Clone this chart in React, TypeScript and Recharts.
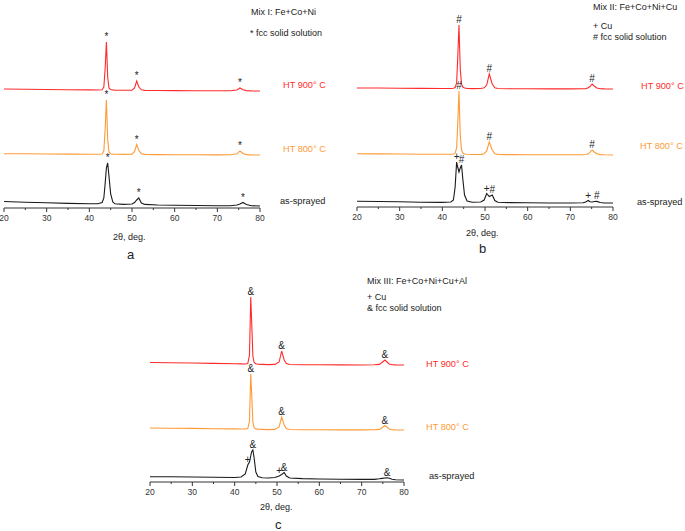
import React from 'react';
import { LineChart, Line, XAxis, YAxis, ReferenceDot } from 'recharts';

// 2θ grids (deg) and intensities (a.u.)
const ANGLES_A = [20, 25, 30, 35, 40, 42, 43, 43.4, 43.7, 44.0, 44.3, 44.6, 45, 45.5, 46, 48, 50, 50.6, 51.1, 51.6, 52.2, 53, 56, 60, 65, 70, 73, 74.6, 75.3, 76, 76.8, 78, 80];
const HT900_A = [2, 1.8, 1.5, 1.3, 1.1, 1, 1.3, 4, 22, 49, 14, 3, 1.4, 1, 0.9, 0.7, 0.9, 3, 10, 4, 1.2, 0.6, 0.5, 0.4, 0.3, 0.2, 0.3, 1, 3, 1.3, 0.4, 0.1, 0];
const HT800_A = [1.3, 1.2, 1, 0.9, 0.8, 0.8, 1, 4, 25, 55, 16, 3, 1.2, 0.9, 0.8, 0.6, 0.8, 3.5, 10.5, 4.5, 1.3, 0.6, 0.4, 0.3, 0.2, 0.1, 0.2, 1.2, 4, 1.5, 0.4, 0.1, 0];
const SPRAYED_A = [6.5, 5.8, 5.2, 4.6, 4.2, 4.3, 5.5, 10, 24, 40, 45, 32, 14, 6, 4.2, 3.6, 4, 5.5, 8, 10, 5, 3.6, 3, 2.7, 2.5, 2.3, 2.3, 3, 4, 5.5, 3.5, 2.3, 2];

const ANGLES_B = [20, 25, 30, 35, 40, 42, 42.6, 43.0, 43.35, 43.6, 43.9, 44.2, 44.5, 44.8, 45.2, 45.8, 47, 49, 49.8, 50.4, 51.0, 51.7, 52.3, 53, 56, 60, 65, 70, 73, 73.6, 74.2, 74.6, 75.1, 75.6, 76.2, 77, 78, 80];
const HT900_B = [1, 1, 0.8, 0.6, 0.5, 0.5, 0.8, 1.5, 6, 30, 64, 20, 5, 2, 1, 0.6, 0.4, 0.5, 1.2, 4, 15, 5, 1.2, 0.5, 0.3, 0.2, 0.1, 0.1, 0.2, 0.4, 1.2, 2.5, 5, 3, 1, 0.3, 0.1, 0];
const HT800_B = [1.2, 1.1, 1, 0.8, 0.7, 0.7, 1, 1.8, 7, 30, 64, 20, 5, 2, 1, 0.7, 0.5, 0.6, 1.3, 4, 13, 5, 1.3, 0.6, 0.4, 0.3, 0.2, 0.2, 0.3, 0.5, 1.3, 2.6, 5, 3, 1.2, 0.4, 0.2, 0];
const SPRAYED_B = [5.8, 5.5, 5.3, 4.8, 4.6, 5, 7, 20, 45, 40, 35, 39, 42, 28, 12, 6, 4.8, 5, 7, 13.5, 10.5, 12, 6.5, 4.8, 4.4, 4.2, 4, 4, 4.2, 5, 6.5, 5.2, 5, 5.5, 5.6, 4.5, 4, 4];

const ANGLES_C = [20, 25, 30, 35, 40, 41.5, 42.5, 43.1, 43.5, 43.8, 44.0, 44.3, 44.6, 45.0, 45.5, 46.5, 48, 49.5, 50.5, 51.1, 51.7, 52.2, 53, 56, 60, 65, 70, 73, 74.2, 74.8, 75.5, 76, 76.5, 77.2, 78, 80];
const HT900_C = [2.5, 2.3, 2, 1.6, 1.3, 1.1, 1, 1.5, 10, 68, 45, 9, 2.5, 1.2, 0.8, 0.6, 0.4, 0.6, 3, 14, 5, 1.5, 0.5, 0.3, 0.2, 0.1, 0, 0.2, 0.6, 2.5, 5, 3, 1, 0.3, 0.1, 0];
const HT800_C = [2, 1.8, 1.6, 1.3, 1.1, 1, 1, 1.4, 9, 56, 38, 8, 2.3, 1.1, 0.8, 0.6, 0.4, 0.6, 3, 13, 5, 1.4, 0.5, 0.3, 0.2, 0.1, 0.1, 0.2, 0.6, 2.2, 4.5, 2.8, 1, 0.3, 0.1, 0];
const SPRAYED_C = [5.3, 5.2, 5, 4.8, 4.5, 5, 8, 17, 20, 26, 30, 32, 24, 10, 5.5, 4.2, 4, 4.5, 6, 7.5, 9.5, 6, 4, 3.4, 3, 2.8, 2.6, 2.6, 3.2, 3.6, 4, 4.3, 3.8, 2.8, 2.3, 2];

// vertical stacking offsets of the heat-treated patterns
const OFFSETS_A = { ht900: 117, ht800: 53 };
const OFFSETS_B = { ht900: 118, ht800: 52 };
const OFFSETS_C = { ht900: 117, ht800: 52 };

// peak markers: [angle, symbol]
const MARKS_HT_A: [number, string][] = [[44.0, '*'], [51.1, '*'], [75.3, '*']];
const MARKS_SPRAYED_A: [number, string][] = [[44.3, '*'], [51.6, '*'], [76, '*']];
const MARKS_HT_B: [number, string][] = [[43.9, '#'], [51.0, '#'], [75.1, '#']];
const MARKS_SPRAYED_B: [number, string][] = [[43.35, '+'], [44.5, '#'], [50.4, '+'], [51.7, '#'], [74.2, '+'], [76.2, '#']];
const MARKS_HT_C: [number, string][] = [[43.8, '&'], [51.1, '&'], [75.5, '&']];
const MARKS_SPRAYED_C: [number, string][] = [[43.1, '+'], [44.3, '&'], [50.5, '+'], [51.7, '&'], [76, '&']];

const TICKS = [20, 25, 30, 35, 40, 45, 50, 55, 60, 65, 70, 75, 80];

const FONT = '"Liberation Sans", Arial, Helvetica, sans-serif';
const RED = '#ff2b2b';
const ORANGE = '#ff9a36';
const BLACK = '#1a1a1a';

const buildRows = (angles: number[], h900: number[], h800: number[], sprayed: number[], off: { ht900: number; ht800: number }) =>
  angles.map((a, i) => ({
    angle: a,
    ht900: h900[i] + off.ht900,
    ht800: h800[i] + off.ht800,
    sprayed: sprayed[i],
  }));

const AxisTick = (props: any) => {
  const { x, y, payload } = props;
  const major = payload.value % 10 === 0;
  return (
    <g>
      <line x1={x} y1={y} x2={x} y2={y + (major ? 4 : 2)} stroke="#333" strokeWidth={1} />
      {major && (
        <text x={x} y={y + 13} textAnchor="middle" fontSize={8.5} fill="#333" fontFamily={FONT}>
          {payload.value}
        </text>
      )}
    </g>
  );
};

type Note = { text: string; x: number; y: number; size?: number; color?: string };

const Notes = ({ items }: { items: Note[] }) => (
  <>
    {items.map((n, i) => {
      const fs = n.size ?? 9;
      return (
        <div
          key={i}
          style={{
            position: 'absolute',
            left: n.x,
            top: n.y - fs * 0.58,
            fontSize: fs,
            lineHeight: 1,
            color: n.color ?? '#222',
            whiteSpace: 'nowrap',
            fontFamily: FONT,
          }}
        >
          {n.text}
        </div>
      );
    })}
  </>
);

type PanelProps = {
  left: number;
  top: number;
  width: number;
  height: number;
  margin: { top: number; right: number; left: number; bottom: number };
  axisHeight: number;
  yMax: number;
  rows: any[];
  marksHt: [number, string][];
  marksSprayed: [number, string][];
};

const lookup = (rows: any[], angle: number, key: string) => {
  const r = rows.find((row) => row.angle === angle);
  return r ? r[key] : 0;
};

const Panel = ({ left, top, width, height, margin, axisHeight, yMax, rows, marksHt, marksSprayed }: PanelProps) => {
  const dots: { key: string; angle: number; sym: string }[] = [];
  marksHt.forEach(([a, s]) => {
    dots.push({ key: 'ht900', angle: a, sym: s });
    dots.push({ key: 'ht800', angle: a, sym: s });
  });
  marksSprayed.forEach(([a, s]) => dots.push({ key: 'sprayed', angle: a, sym: s }));

  return (
    <div style={{ position: 'absolute', left, top }}>
      <LineChart width={width} height={height} data={rows} margin={margin}>
        <XAxis
          dataKey="angle"
          type="number"
          domain={[20, 80]}
          ticks={TICKS}
          tick={<AxisTick />}
          tickLine={false}
          tickSize={0}
          tickMargin={0}
          height={axisHeight}
          axisLine={{ stroke: '#333', strokeWidth: 1 }}
          interval={0}
        />
        <YAxis
          type="number"
          domain={[0, yMax]}
          width={0}
          tick={false}
          tickLine={false}
          axisLine={{ stroke: '#333', strokeWidth: 1 }}
          allowDataOverflow
        />
        <Line type="linear" dataKey="ht900" stroke={RED} strokeWidth={1.1} dot={false} isAnimationActive={false} />
        <Line type="linear" dataKey="ht800" stroke={ORANGE} strokeWidth={1.1} dot={false} isAnimationActive={false} />
        <Line type="linear" dataKey="sprayed" stroke={BLACK} strokeWidth={1.1} dot={false} isAnimationActive={false} />
        {dots.map((d, i) => (
          <ReferenceDot
            key={i}
            x={d.angle}
            y={lookup(rows, d.angle, d.key)}
            r={0}
            fill="none"
            stroke="none"
            label={{ value: d.sym, position: 'top', offset: 2, fontSize: 10, fill: '#222', fontFamily: FONT }}
          />
        ))}
      </LineChart>
    </div>
  );
};

const rowsA = buildRows(ANGLES_A, HT900_A, HT800_A, SPRAYED_A, OFFSETS_A);
const rowsB = buildRows(ANGLES_B, HT900_B, HT800_B, SPRAYED_B, OFFSETS_B);
const rowsC = buildRows(ANGLES_C, HT900_C, HT800_C, SPRAYED_C, OFFSETS_C);

const LBL = 9.2;

const NOTES: Note[] = [
  // panel a
  { text: 'Mix I: Fe+Co+Ni', x: 251, y: 13 },
  { text: '* fcc solid solution', x: 250, y: 34 },
  { text: 'HT 900° C', x: 283, y: 86, size: LBL, color: RED },
  { text: 'HT 800° C', x: 283, y: 150, size: LBL, color: ORANGE },
  { text: 'as-sprayed', x: 280, y: 202, size: LBL },
  { text: '2θ, deg.', x: 113, y: 238 },
  { text: 'a', x: 127, y: 256, size: 13 },
  // panel b
  { text: 'Mix II: Fe+Co+Ni+Cu', x: 593, y: 8 },
  { text: '+ Cu', x: 593, y: 27 },
  { text: '# fcc solid solution', x: 593, y: 38 },
  { text: 'HT 900° C', x: 641, y: 87, size: LBL, color: RED },
  { text: 'HT 800° C', x: 640, y: 147, size: LBL, color: ORANGE },
  { text: 'as-sprayed', x: 637, y: 203, size: LBL },
  { text: '2θ, deg.', x: 466, y: 234 },
  { text: 'b', x: 479, y: 250, size: 13 },
  // panel c
  { text: 'Mix III: Fe+Co+Ni+Cu+Al', x: 367, y: 282 },
  { text: '+ Cu', x: 367, y: 298 },
  { text: '& fcc solid solution', x: 367, y: 309 },
  { text: 'HT 900° C', x: 426, y: 365, size: LBL, color: RED },
  { text: 'HT 800° C', x: 426, y: 428, size: LBL, color: ORANGE },
  { text: 'as-sprayed', x: 429, y: 477, size: LBL },
  { text: '2θ, deg.', x: 260, y: 508 },
  { text: 'c', x: 275, y: 526, size: 13 },
];

export default function App() {
  return (
    <div
      style={{
        position: 'absolute',
        left: 0,
        top: 0,
        width: 685,
        height: 531,
        overflow: 'hidden',
        background: '#fff',
        fontFamily: FONT,
      }}
    >
      <Panel
        left={0}
        top={0}
        width={340}
        height={260}
        margin={{ top: 22, right: 80, left: 4, bottom: 0 }}
        axisHeight={52}
        yMax={186}
        rows={rowsA}
        marksHt={MARKS_HT_A}
        marksSprayed={MARKS_SPRAYED_A}
      />
      <Panel
        left={340}
        top={0}
        width={345}
        height={260}
        margin={{ top: 22, right: 72, left: 17, bottom: 0 }}
        axisHeight={53}
        yMax={185}
        rows={rowsB}
        marksHt={MARKS_HT_B}
        marksSprayed={MARKS_SPRAYED_B}
      />
      <Panel
        left={130}
        top={270}
        width={400}
        height={261}
        margin={{ top: 25, right: 126, left: 20, bottom: 0 }}
        axisHeight={49}
        yMax={187}
        rows={rowsC}
        marksHt={MARKS_HT_C}
        marksSprayed={MARKS_SPRAYED_C}
      />
      <Notes items={NOTES} />
    </div>
  );
}
